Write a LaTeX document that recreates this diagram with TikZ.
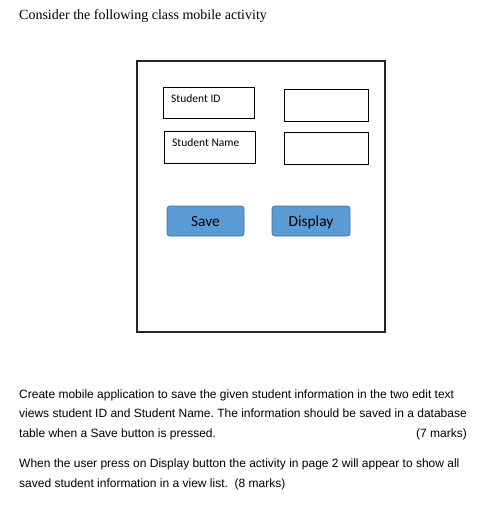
\documentclass[tikz,border=0pt]{standalone}
\usepackage{fontspec}
\setmainfont{Liberation Serif}
\newfontfamily\arialf{Liberation Sans}
\newfontfamily\calibrif{Carlito}
\frenchspacing
\begin{document}
\begin{tikzpicture}[x=1pt,y=-1pt,
  box/.style={draw=black,line width=0.9pt},
  lbl/.style={anchor=base west,inner sep=0pt,font=\calibrif\fontsize{11.5}{13}\selectfont},
  btn/.style={draw=btnborder,fill=btnfill,rounded corners=3pt,line width=0.8pt},
  btntext/.style={anchor=base,inner sep=0pt,font=\calibrif\fontsize{15.4}{17}\selectfont},
  para/.style={anchor=base west,inner sep=0pt,font=\arialf\fontsize{12}{14}\selectfont},
]
\definecolor{btnfill}{HTML}{5B9BD5}
\definecolor{btnborder}{HTML}{41719C}
\useasboundingbox (0,0) rectangle (478,506);
\fill[white] (0,0) rectangle (478,506);
\node[anchor=base west,inner sep=0pt,font=\fontsize{14}{16}\selectfont] (title) at (19,19.5) {Consider the following class mobile activity};
% outer frame
\draw[draw=black!85,line width=1.2pt] (137,61) rectangle (385,332);
% edit boxes
\draw[box] (163,87) rectangle (254,118);
\node[lbl] (sid) at (171,102.5) {Student ID};
\draw[box] (284,89) rectangle (368,121);
\draw[box] (164,131) rectangle (255,163);
\node[lbl] (sname) at (172,146.5) {Student Name};
\draw[box] (284,132) rectangle (368,164);
% buttons
\draw[btn] (167,206) rectangle (244,236);
\node[btntext] (save) at (205.5,226.5) {Save};
\draw[btn] (272,206) rectangle (350,236);
\node[btntext] (disp) at (311,226.5) {Display};
% paragraphs
\node[para] (l1) at (19,398) {Create mobile application to save the given student information in the two edit text};
\node[para] (l2) at (19,417.5) {views student ID and Student Name. The information should be saved in a database};
\node[para] (l3) at (19,437.5) {table when a Save button is pressed.};
\node[para,anchor=base east] (m7) at (467,437.5) {(7 marks)};
\node[para] (l4) at (19,467.5) {When the user press on Display button the activity in page 2 will appear to show all};
\node[para] (l5) at (19,487.5) {saved student information in a view list.\ \ (8 marks)};
\end{tikzpicture}
\end{document}
